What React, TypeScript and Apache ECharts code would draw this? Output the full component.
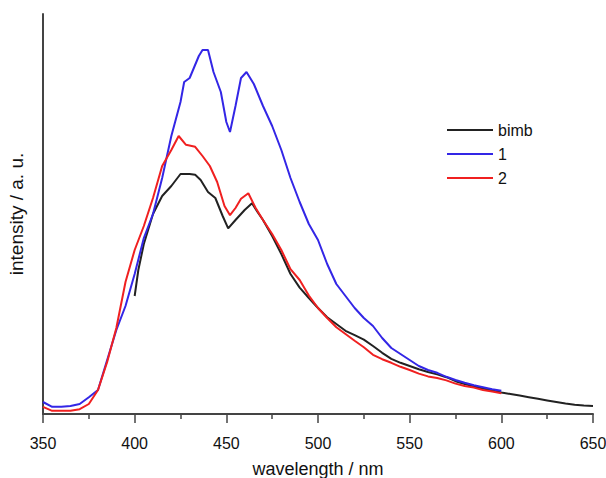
import React, { useEffect, useRef } from "react";
import * as echarts from "echarts";

// wavelength (nm) and intensity (a.u.) for each spectrum
const bimbX = [400, 402, 405, 410, 415, 420, 425, 430, 433, 436, 440, 444, 448, 451, 455, 460, 464, 467, 470, 475, 480, 485, 490, 495, 500, 505, 510, 515, 520, 525, 530, 535, 540, 545, 550, 555, 560, 565, 570, 575, 580, 585, 590, 595, 600, 605, 610, 615, 620, 625, 630, 635, 640, 645, 650];
const bimbY = [29.5, 36, 42.5, 50, 54.5, 57, 60, 60, 59.8, 58.5, 55.5, 54, 49.5, 46.4, 48.5, 51, 52.7, 50.5, 48.5, 44.5, 40, 35, 31.6, 29, 26.5, 24.2, 22.5, 20.8, 19.7, 18.6, 17, 15.3, 13.8, 12.8, 12, 11.2, 10.5, 9.9, 9.2, 8.2, 7.5, 6.9, 6.4, 5.9, 5.4, 5, 4.6, 4.2, 3.8, 3.4, 3, 2.6, 2.3, 2.1, 2];

const s1X = [350, 355, 360, 365, 370, 375, 380, 385, 390, 395, 400, 405, 410, 415, 420, 425, 427, 430, 435, 437, 440, 443, 447, 450, 452, 455, 458, 461, 465, 470, 475, 480, 485, 490, 495, 500, 505, 510, 515, 520, 525, 530, 535, 540, 545, 550, 555, 560, 565, 570, 575, 580, 585, 590, 595, 600];
const s1Y = [3, 1.8, 1.8, 2, 2.5, 4.2, 6, 13.5, 21, 27, 35, 44, 50, 59, 69.5, 78, 83, 84, 89.5, 91, 91, 85.5, 80.5, 73, 70.5, 77, 84, 85.5, 82.5, 77, 72, 66, 59, 53, 47.5, 43.5, 37.5, 32.5, 29.5, 26.5, 24, 22, 19, 16.5, 15, 13.5, 12, 11, 10.3, 9.3, 8.5, 7.8, 7.2, 6.7, 6.2, 5.8];

const s2X = [350, 355, 360, 365, 370, 375, 380, 385, 390, 395, 400, 405, 410, 415, 420, 424, 428, 433, 437, 441, 445, 449, 452, 455, 458, 462, 466, 470, 475, 480, 485, 490, 495, 500, 505, 510, 515, 520, 525, 530, 535, 540, 545, 550, 555, 560, 565, 570, 575, 580, 585, 590, 595, 600];
const s2Y = [1.8, 0.8, 0.8, 0.8, 1.2, 2.5, 6, 13, 21.5, 33, 41, 47, 54, 62, 66, 69.5, 67.3, 66.8, 64.5, 62, 58, 52, 49.7, 51.5, 53.8, 55.2, 51.5, 48.5, 45, 41, 36.2, 33.5, 29.6, 26.5, 24, 21.7, 20, 18.3, 16.7, 14.8, 13.7, 12.8, 11.8, 11, 10.1, 9.4, 9, 8.4, 7.6, 7, 6.6, 6, 5.6, 5.2];

const seriesNames = ["bimb", "1", "2"];
const seriesColors = ["#222222", "#3326e6", "#f02020"];

const zip = (xs: number[], ys: number[]) => xs.map((x, i) => [x, ys[i]]);

export default function App() {
  const ref = useRef<HTMLDivElement>(null);
  useEffect(() => {
    document.body.style.margin = "0";
    const chart = echarts.init(ref.current!, null, { renderer: "svg" });
    const font = "Arial, 'Liberation Sans', sans-serif";
    const datasets = [zip(bimbX, bimbY), zip(s1X, s1Y), zip(s2X, s2Y)];
    chart.setOption({
      animation: false,
      backgroundColor: "#ffffff",
      grid: { left: 43, right: 13, top: 14, bottom: 64, outerBoundsMode: "none", containLabel: false },
      legend: {
        orient: "vertical",
        left: 447,
        top: 122,
        padding: 0,
        itemWidth: 46,
        itemHeight: 2,
        itemGap: 8,
        icon: "rect",
        textStyle: { fontFamily: font, fontSize: 16, color: "#111" },
        data: seriesNames,
      },
      xAxis: {
        type: "value",
        min: 350,
        max: 650,
        interval: 50,
        name: "wavelength / nm",
        nameLocation: "middle",
        nameGap: 46,
        nameTextStyle: { fontFamily: font, fontSize: 18, color: "#111" },
        axisLine: { lineStyle: { color: "#444", width: 2 } },
        axisTick: { length: 9, lineStyle: { color: "#444", width: 1.5 } },
        minorTick: { show: true, splitNumber: 2, length: 5, lineStyle: { color: "#444", width: 1.5 } },
        axisLabel: { margin: 21, fontFamily: font, fontSize: 16, color: "#111" },
        splitLine: { show: false },
      },
      yAxis: {
        type: "value",
        min: 0,
        max: 100,
        name: "intensity / a. u.",
        nameLocation: "middle",
        nameGap: 17,
        nameTextStyle: { fontFamily: font, fontSize: 19, color: "#111" },
        axisLine: { show: true, lineStyle: { color: "#444", width: 2 } },
        axisTick: { show: false },
        axisLabel: { show: false },
        splitLine: { show: false },
      },
      series: datasets.map((d, i) => ({
        name: seriesNames[i],
        type: "line",
        data: d,
        showSymbol: false,
        symbol: "none",
        smooth: false,
        lineStyle: { color: seriesColors[i], width: 2 },
        itemStyle: { color: seriesColors[i] },
      })),
    });
    return () => chart.dispose();
  }, []);
  return <div ref={ref} style={{ width: 606, height: 478 }} />;
}
